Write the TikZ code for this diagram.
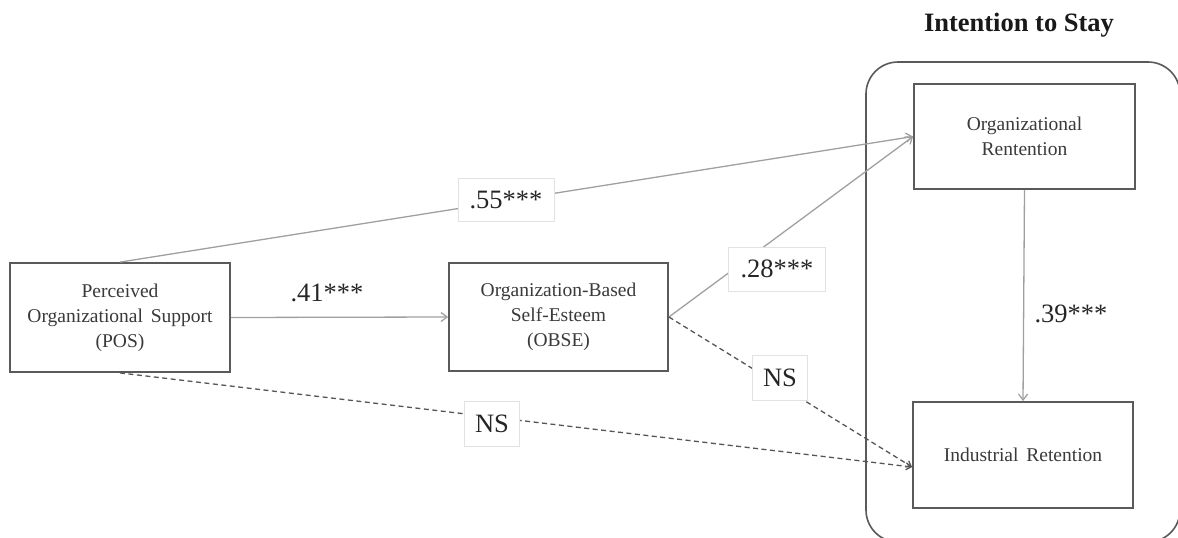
\documentclass[tikz,border=0pt]{standalone}
\usepackage{fontspec}
\setmainfont{Liberation Serif}
\usetikzlibrary{arrows.meta,calc}
\definecolor{boxline}{HTML}{5A5A5A}
\definecolor{arrowline}{HTML}{A0A0A0}
\definecolor{dashline}{HTML}{555555}
\definecolor{txt}{HTML}{3A3A3A}
\definecolor{lblborder}{HTML}{E2E2E2}
\tikzset{
  varbox/.style={draw=boxline, line width=1.8pt, fill=white, align=center, text=txt,
    font=\fontsize{19.5}{25}\selectfont, inner sep=0pt},
  groupbox/.style={draw=boxline, line width=1.6pt, rounded corners=32pt},
  solidarrow/.style={draw=arrowline, line width=1.3pt, -{Straight Barb[length=6pt,width=9pt]}},
  dasharrow/.style={draw=dashline, line width=1.3pt, dash pattern=on 5pt off 3.5pt, -{Straight Barb[length=5pt,width=7pt]}},
  lblbox/.style={draw=lblborder, line width=0.8pt, fill=white, text=black!85,
    font=\fontsize{26.5}{30}\selectfont, inner sep=0pt},
  plainlbl/.style={text=black!85, font=\fontsize{26.5}{30}\selectfont, inner sep=0pt},
}
\begin{document}
\begin{tikzpicture}[x=1pt,y=-1pt]
\useasboundingbox (0,0) rectangle (1178,538);
% group box
\node[groupbox, minimum width=314pt, minimum height=480pt] (group) at (1023,302) {};
\node[font=\bfseries\fontsize{26.5}{30}\selectfont, text=black!90] (title) at (1019,25) {Intention to Stay};
% variable boxes
\node[varbox, minimum width=220pt, minimum height=109pt] (pos) at (120,317.5) {Perceived\\Organizational\hspace{0.4em}Support\\(POS)};
\node[varbox, minimum width=219pt, minimum height=108pt] (obse) at (558.5,317) {Organization-Based\\Self-Esteem\\(OBSE)};
\node[varbox, minimum width=221pt, minimum height=105pt] (orgret) at (1024.5,136.5) {Organizational\\Rentention};
\node[varbox, minimum width=220pt, minimum height=106pt] (indret) at (1023,455) {Industrial\hspace{0.4em}Retention};
% connectors
\draw[solidarrow] (pos.north) -- (orgret.west);
\draw[solidarrow] (pos.east) -- (obse.west);
\draw[solidarrow] (obse.east) -- (orgret.west);
\draw[dasharrow] (obse.east) -- ([yshift=-12pt]indret.west);
\draw[dasharrow] (pos.south) -- ([yshift=-12pt]indret.west);
\draw[solidarrow] (orgret.south) -- (indret.north);
% labels
\node[lblbox, minimum width=96pt, minimum height=43pt] (l55) at (506,200) {.55***};
\node[lblbox, minimum width=97pt, minimum height=44pt] (l28) at (777,269) {.28***};
\node[lblbox, minimum width=55pt, minimum height=45pt] (ns1) at (492,424) {NS};
\node[lblbox, minimum width=55pt, minimum height=45pt] (ns2) at (780,378) {NS};
\node[plainlbl] (l41) at (327,293) {.41***};
\node[plainlbl] (l39) at (1071,314) {.39***};
\end{tikzpicture}
\end{document}
